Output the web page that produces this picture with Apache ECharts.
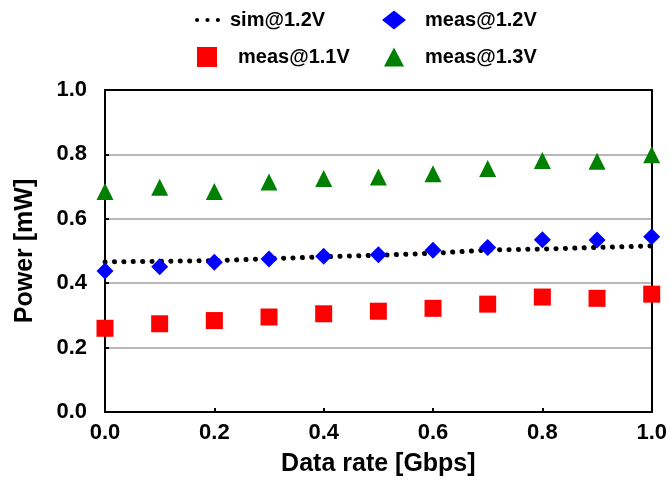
<!DOCTYPE html>
<html>
<head>
<meta charset="utf-8">
<script src="https://cdn.jsdelivr.net/npm/echarts@6/dist/echarts.min.js"></script>
<style>html,body{margin:0;padding:0;background:#fff}#c{width:670px;height:485px}</style>
</head>
<body>
<div id="c"></div>
<script>
const dataRate = [0.0, 0.1, 0.2, 0.3, 0.4, 0.5, 0.6, 0.7, 0.8, 0.9, 1.0];
const sim12 = [0.466, 0.468, 0.470, 0.476, 0.482, 0.487, 0.493, 0.503, 0.506, 0.511, 0.516];
const meas12 = [0.438, 0.451, 0.465, 0.475, 0.484, 0.488, 0.502, 0.511, 0.535, 0.534, 0.544];
const meas11 = [0.260, 0.274, 0.284, 0.295, 0.305, 0.313, 0.322, 0.335, 0.357, 0.353, 0.366];
const meas13 = [0.685, 0.698, 0.685, 0.714, 0.725, 0.730, 0.740, 0.756, 0.781, 0.779, 0.799];
const xTicks = ['0.0', '0.2', '0.4', '0.6', '0.8', '1.0'];
const yTicks = ['0.0', '0.2', '0.4', '0.6', '0.8', '1.0'];

const pair = arr => dataRate.map((x, i) => [x, arr[i]]);
const font = 'Liberation Sans, Arial, sans-serif';
const chart = echarts.init(document.getElementById('c'), null, {renderer: 'canvas'});
const lt = pad => ({fontFamily: font, fontWeight: 'bold', fontSize: 20, color: '#000', padding: [0, 0, 0, pad]});
const dotsIcon = 'path://M0,2a2,2 0 1,0 4,0a2,2 0 1,0 -4,0zM10,2a2,2 0 1,0 4,0a2,2 0 1,0 -4,0zM20,2a2,2 0 1,0 4,0a2,2 0 1,0 -4,0z';
chart.setOption({
  animation: false,
  backgroundColor: '#fff',
  legend: [
    {data: [{name: 'sim@1.2V', icon: dotsIcon}], left: 195, top: 10, padding: 0, itemWidth: 25, itemHeight: 5, textStyle: lt(5)},
    {data: [{name: 'meas@1.1V', icon: 'rect'}], left: 197, top: 47, padding: 0, itemWidth: 20, itemHeight: 20, textStyle: lt(16)},
    {data: [{name: 'meas@1.2V', icon: 'diamond'}], left: 382, top: 10, padding: 0, itemWidth: 24, itemHeight: 19, textStyle: lt(14)},
    {data: [{name: 'meas@1.3V', icon: 'triangle'}], left: 384, top: 47, padding: 0, itemWidth: 20, itemHeight: 19, textStyle: lt(16)}
  ],
  grid: {left: 105, right: 14, top: 90, bottom: 73},
  xAxis: [{
    type: 'value', min: 0, max: 1, interval: 0.2,
    name: 'Data rate [Gbps]', nameLocation: 'middle', nameGap: 40,
    nameTextStyle: {fontFamily: font, fontWeight: 'bold', fontSize: 25, color: '#000'},
    axisLine: {show: true, lineStyle: {color: '#000', width: 2}},
    axisTick: {show: true, inside: true, length: 4, lineStyle: {color: '#000', width: 2}},
    axisLabel: {margin: 10, fontFamily: font, fontWeight: 'bold', fontSize: 22, color: '#000',
      formatter: v => xTicks[Math.round(v / 0.2)]},
    splitLine: {show: false}
  }, {
    type: 'value', min: 0, max: 1, position: 'top',
    axisLine: {show: true, onZero: false, lineStyle: {color: '#000', width: 2}},
    axisTick: {show: false}, axisLabel: {show: false}, splitLine: {show: false}
  }],
  yAxis: [{
    type: 'value', min: 0, max: 1, interval: 0.2,
    name: 'Power [mW]', nameLocation: 'middle', nameGap: 67,
    nameTextStyle: {fontFamily: font, fontWeight: 'bold', fontSize: 25, color: '#000'},
    axisLine: {show: true, lineStyle: {color: '#000', width: 2}},
    axisTick: {show: true, inside: true, length: 4, lineStyle: {color: '#000', width: 2}},
    axisLabel: {margin: 18, fontFamily: font, fontWeight: 'bold', fontSize: 22, color: '#000',
      formatter: v => yTicks[Math.round(v / 0.2)]},
    splitLine: {show: true, lineStyle: {color: '#a0a0a0', width: 1.5}}
  }, {
    type: 'value', min: 0, max: 1, position: 'right',
    axisLine: {show: true, onZero: false, lineStyle: {color: '#000', width: 2}},
    axisTick: {show: false}, axisLabel: {show: false}, splitLine: {show: false}
  }],
  series: [
    {name: 'sim@1.2V', type: 'line', data: pair(sim12), showSymbol: false, symbol: 'none', z: 3,
      itemStyle: {color: '#000'},
      lineStyle: {color: '#000', width: 5, type: [0.1, 9.3], cap: 'round'}},
    {name: 'meas@1.2V', type: 'scatter', data: pair(meas12), symbol: 'diamond', symbolSize: 17, z: 4,
      itemStyle: {color: '#0000ff', opacity: 1}},
    {name: 'meas@1.1V', type: 'scatter', data: pair(meas11), symbol: 'rect', symbolSize: 17, z: 4,
      itemStyle: {color: '#ff0000', opacity: 1}},
    {name: 'meas@1.3V', type: 'scatter', data: pair(meas13), symbol: 'triangle', symbolSize: 17, z: 4,
      itemStyle: {color: '#008000', opacity: 1}}
  ]
});
</script>
</body>
</html>
